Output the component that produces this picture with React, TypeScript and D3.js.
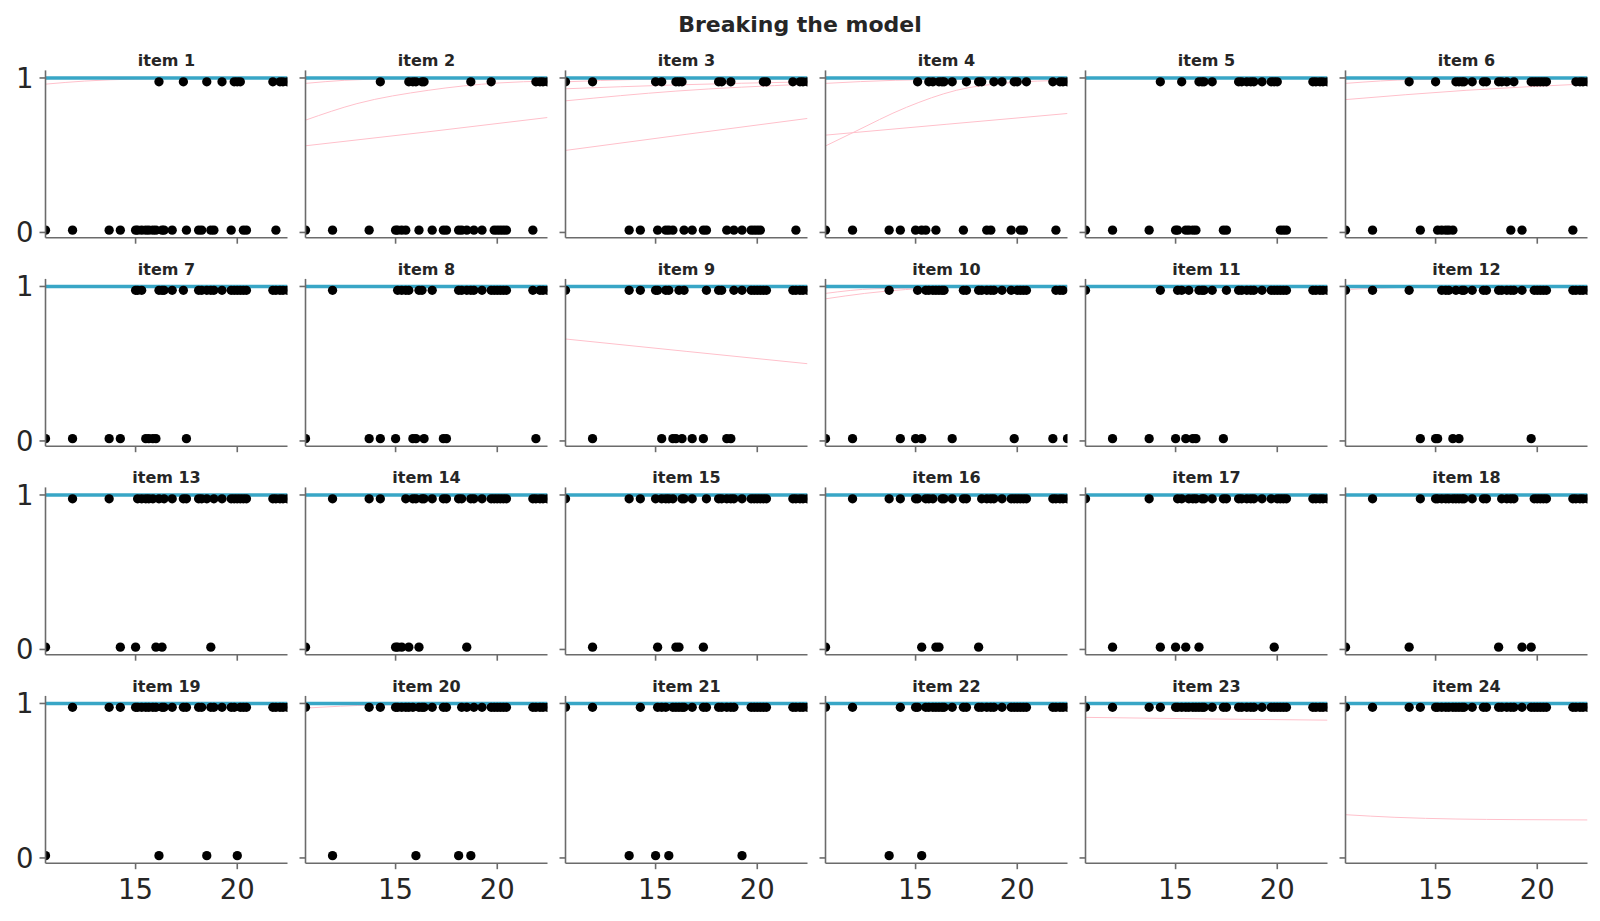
import React from 'react';
import * as d3 from 'd3';

// ages of the respondents (x values shared by every item panel)
const ages = [
  10.57, 11.9, 13.7, 14.25, 15.0, 15.1, 15.3, 15.5, 15.65, 15.85, 16.0, 16.15, 16.3, 16.4,
  16.8, 17.35, 17.5, 18.1, 18.25, 18.5, 18.7, 18.85, 19.25, 19.7, 19.85, 20.0, 20.15, 20.3,
  20.45, 21.75, 21.9, 22.1, 22.25, 22.47,
];

const items = [
  'item 1', 'item 2', 'item 3', 'item 4', 'item 5', 'item 6',
  'item 7', 'item 8', 'item 9', 'item 10', 'item 11', 'item 12',
  'item 13', 'item 14', 'item 15', 'item 16', 'item 17', 'item 18',
  'item 19', 'item 20', 'item 21', 'item 22', 'item 23', 'item 24',
];

// ages that answered 0 on each item (everyone else answered 1)
const zeroAges: number[][] = [
  [10.57, 11.9, 13.7, 14.25, 15.0, 15.1, 15.3, 15.5, 15.65, 15.85, 16.0, 16.3, 16.4, 16.8, 17.5, 18.1, 18.25, 18.7, 18.85, 19.7, 20.3, 20.45, 21.9],
  [10.57, 11.9, 13.7, 15.0, 15.1, 15.3, 15.5, 16.15, 16.8, 17.35, 17.5, 18.1, 18.25, 18.5, 18.85, 19.25, 19.85, 20.0, 20.15, 20.3, 20.45, 21.75],
  [13.7, 14.25, 15.1, 15.5, 15.65, 15.85, 16.4, 16.8, 17.35, 17.5, 18.5, 18.85, 19.25, 19.7, 19.85, 20.0, 20.15, 21.9],
  [10.57, 11.9, 13.7, 14.25, 15.0, 15.3, 15.5, 16.0, 17.35, 18.5, 18.7, 19.7, 20.15, 20.3, 21.9],
  [10.57, 11.9, 13.7, 15.0, 15.1, 15.5, 15.65, 15.85, 16.0, 17.35, 17.5, 20.15, 20.3, 20.45],
  [10.57, 11.9, 14.25, 15.1, 15.3, 15.5, 15.65, 15.85, 18.7, 19.25, 21.75],
  [10.57, 11.9, 13.7, 14.25, 15.5, 15.65, 15.85, 16.0, 17.5],
  [10.57, 13.7, 14.25, 15.0, 15.85, 16.0, 16.4, 17.35, 17.5, 21.9],
  [11.9, 15.3, 15.85, 16.0, 16.3, 16.8, 17.35, 18.5, 18.7],
  [10.57, 11.9, 14.25, 15.0, 15.3, 16.8, 19.85, 21.75, 22.47],
  [11.9, 13.7, 15.0, 15.5, 15.85, 16.0, 17.35],
  [14.25, 15.0, 15.1, 15.85, 16.15, 19.7],
  [10.57, 14.25, 15.0, 16.0, 16.3, 18.7],
  [10.57, 15.0, 15.1, 15.3, 15.65, 16.15, 18.5],
  [11.9, 15.1, 16.0, 16.15, 17.35],
  [10.57, 15.3, 16.0, 16.15, 18.1],
  [11.9, 14.25, 15.0, 15.5, 16.15, 19.85],
  [10.57, 13.7, 18.1, 19.25, 19.7],
  [10.57, 16.15, 18.5, 20.0],
  [11.9, 16.0, 18.1, 18.7],
  [13.7, 15.0, 15.65, 19.25],
  [13.7, 15.3],
  [],
  [],
];

// posterior mean probability per item (flat at the top)
const meanLevel = [1, 1, 1, 1, 1, 1, 1, 1, 1, 1, 1, 1, 1, 1, 1, 1, 1, 1, 1, 1, 1, 1, 1, 1];

// a few posterior sample curves as (age, probability)
const sampleCurves: { item: number; points: [number, number][] }[] = [
  { item: 1, points: [[10.57, 0.96], [12.5, 0.98], [15, 0.993], [18, 0.998], [22.47, 1]] },
  { item: 2, points: [[10.57, 0.965], [12.5, 0.985], [15, 0.995], [22.47, 1]] },
  { item: 2, points: [[10.57, 0.727], [13.1, 0.834], [16.6, 0.92], [20.1, 0.968], [22.47, 0.98]] },
  { item: 2, points: [[10.57, 0.561], [16.5, 0.65], [22.47, 0.744]] },
  { item: 3, points: [[10.57, 0.975], [14, 0.99], [22.47, 1]] },
  { item: 3, points: [[10.57, 0.93], [16, 0.955], [22.47, 0.975]] },
  { item: 3, points: [[10.57, 0.852], [16, 0.915], [22.47, 0.96]] },
  { item: 3, points: [[10.57, 0.531], [16.5, 0.635], [22.47, 0.738]] },
  { item: 4, points: [[10.57, 0.965], [14, 0.985], [22.47, 1]] },
  { item: 4, points: [[10.57, 0.63], [16.5, 0.7], [22.47, 0.77]] },
  { item: 4, points: [[10.57, 0.56], [11.9, 0.645], [14.55, 0.81], [17, 0.92], [19.5, 0.968], [22.47, 0.985]] },
  { item: 6, points: [[10.57, 0.965], [14, 0.99], [22.47, 1]] },
  { item: 6, points: [[10.57, 0.86], [16.5, 0.92], [22.47, 0.962]] },
  { item: 9, points: [[10.57, 0.66], [16.5, 0.58], [22.47, 0.5]] },
  { item: 10, points: [[10.57, 0.92], [12.5, 0.955], [14.5, 0.98], [17, 0.995], [22.47, 1]] },
  { item: 10, points: [[10.57, 0.955], [13, 0.985], [22.47, 1]] },
  { item: 12, points: [[10.57, 0.98], [14, 0.995], [22.47, 1]] },
  { item: 20, points: [[10.57, 0.97], [14, 0.99], [22.47, 1]] },
  { item: 23, points: [[10.57, 0.91], [16.5, 0.9], [22.47, 0.892]] },
  { item: 24, points: [[10.57, 0.28], [13, 0.263], [16, 0.252], [19, 0.248], [22.47, 0.246]] },
];

const xTicks = [15, 20];
const yTicks = [0, 1];

const width = 1600;
const height = 921;
const nCols = 6;
const panelW = 242;
const panelH = 167.3;
const left0 = 45.5;
const top0 = 70.4;
const colStep = 260;
const rowStep = 208.5;
const font = '"DejaVu Sans", sans-serif';
const ink = '#262626';
const spine = '#6b6b6b';
const zeroLevel = 0.015;
const oneLevel = 0.975;

const x = d3.scaleLinear().domain(d3.extent(ages) as [number, number]).range([0, panelW]);
const y = d3.scaleLinear().domain([-0.034, 1.049]).range([panelH, 0]);
const curve = d3
  .line<[number, number]>()
  .x(d => x(d[0]))
  .y(d => y(d[1]))
  .curve(d3.curveMonotoneX);

const Panel: React.FC<{ idx: number }> = ({ idx }) => {
  const col = idx % nCols;
  const row = Math.floor(idx / nCols);
  const zeros = zeroAges[idx];
  const [xMin, xMax] = x.domain();
  const firstCol = col === 0;
  const lastRow = row === Math.ceil(items.length / nCols) - 1;

  return (
    <g transform={`translate(${left0 + col * colStep},${top0 + row * rowStep})`}>
      <defs>
        <clipPath id={`clip-${idx}`}>
          <rect x={0} y={0} width={panelW} height={panelH} />
        </clipPath>
      </defs>
      <g clipPath={`url(#clip-${idx})`}>
        {sampleCurves
          .filter(c => c.item === idx + 1)
          .map((c, k) => (
            <path key={k} d={curve(c.points) || ''} fill="none" stroke="#ffc0cb" strokeWidth={1} />
          ))}
        <path
          d={curve([[xMin, meanLevel[idx]], [xMax, meanLevel[idx]]]) || ''}
          fill="none"
          stroke="#38a6c6"
          strokeWidth={3.5}
        />
        {ages.map((a, k) => (
          <circle
            key={k}
            cx={x(a)}
            cy={y(zeros.includes(a) ? zeroLevel : oneLevel)}
            r={4.65}
            fill="#000"
          />
        ))}
      </g>

      {/* spines */}
      <line x1={0} x2={0} y1={0} y2={panelH} stroke={spine} strokeWidth={1.6} />
      <line x1={0} x2={panelW} y1={panelH} y2={panelH} stroke={spine} strokeWidth={1.6} />

      {yTicks.map(t => (
        <g key={`y${t}`} transform={`translate(0,${y(t)})`}>
          <line x1={-6} x2={0} stroke={spine} strokeWidth={1.6} />
          {firstCol && (
            <text x={-12} dy="0.36em" textAnchor="end" fontSize={27.5} fill={ink} fontFamily={font}>
              {t}
            </text>
          )}
        </g>
      ))}
      {xTicks.map(t => (
        <g key={`x${t}`} transform={`translate(${x(t)},${panelH})`}>
          <line y1={0} y2={6} stroke={spine} strokeWidth={1.6} />
          {lastRow && (
            <text y={36} textAnchor="middle" fontSize={27.5} fill={ink} fontFamily={font}>
              {t}
            </text>
          )}
        </g>
      ))}

      <text
        x={panelW / 2}
        y={-4}
        textAnchor="middle"
        fontSize={16}
        fontWeight="bold"
        fill={ink}
        fontFamily={font}
      >
        {items[idx]}
      </text>
    </g>
  );
};

export default function App() {
  return (
    <svg
      width={width}
      height={height}
      style={{ position: 'absolute', left: 0, top: 0, background: '#fff' }}
    >
      <rect width={width} height={height} fill="#fff" />
      <text
        x={width / 2}
        y={32}
        textAnchor="middle"
        fontSize={22}
        fontWeight="bold"
        fill={ink}
        fontFamily={font}
      >
        Breaking the model
      </text>
      {items.map((_, i) => (
        <Panel key={i} idx={i} />
      ))}
    </svg>
  );
}
